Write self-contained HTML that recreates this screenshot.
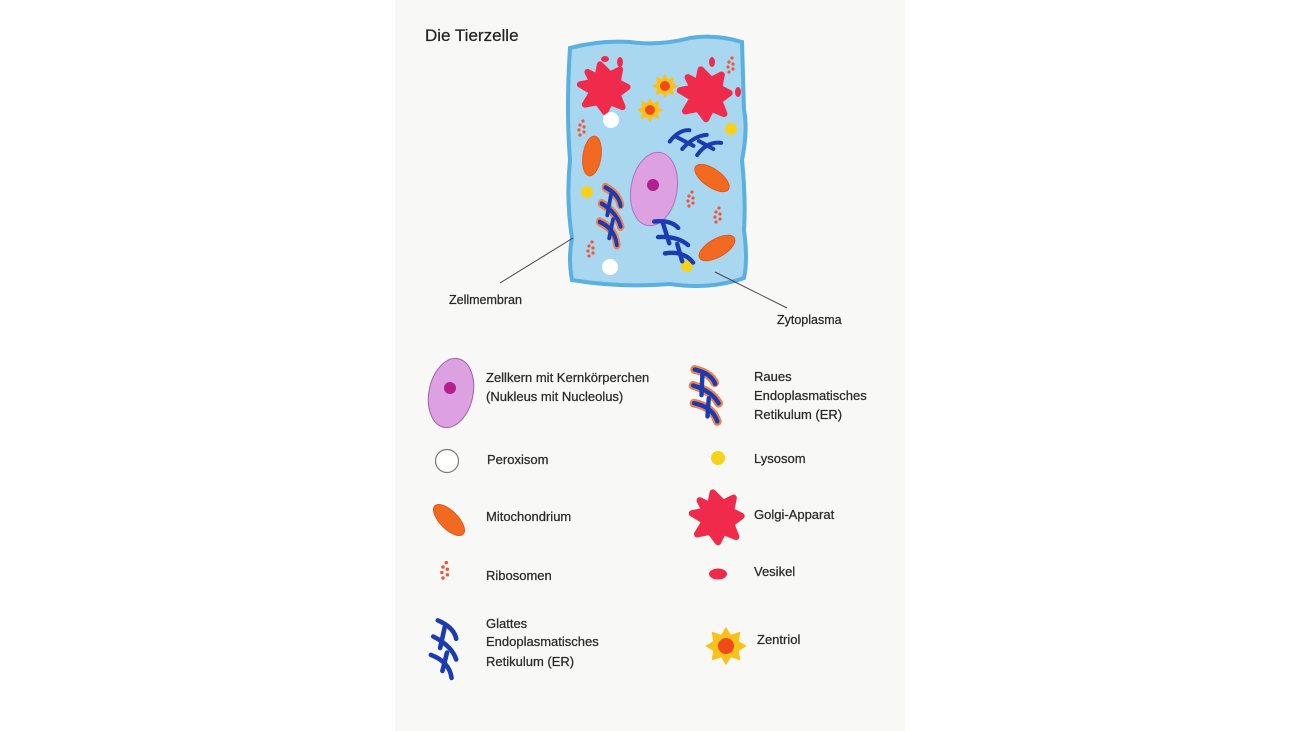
<!DOCTYPE html>
<html><head><meta charset="utf-8"><style>
html,body{margin:0;padding:0;background:#fff;}
svg{display:block}
text{font-family:"Liberation Sans",sans-serif;fill:#2a2a2a;stroke:#2a2a2a;stroke-width:0.25;}
</style></head><body>
<svg width="1300" height="731" viewBox="0 0 1300 731">
<defs>
<g id="golgi"><path d="M-14,-12 L-6,-8 L-4,-18 L4,-10 L12,-14 L10,-4 L18,0 L10,6 L14,16 L4,12 L0,20 L-6,12 L-16,14 L-10,4 L-20,-2 L-10,-4 Z" fill="#f02a4a" stroke="#f02a4a" stroke-width="5" stroke-linejoin="round"/></g>
<g id="cent"><path d="M0,-12 L3,-7 L9,-9 L8,-3 L13,0 L8,3 L9,9 L3,7 L0,12 L-3,7 L-9,9 L-8,3 L-13,0 L-8,-3 L-9,-9 L-3,-7 Z" fill="#f8c21a"/><circle r="5" fill="#f04a1a"/></g>
<g id="mito"><ellipse rx="9" ry="20" fill="#f26a22" stroke="#e5561a" stroke-width="1"/></g>
<g id="ribo" fill="#f0553a"><circle cx="0" cy="0" r="1.6"/><circle cx="4" cy="2" r="1.6"/><circle cx="-1" cy="5" r="1.6"/><circle cx="4" cy="7" r="1.6"/><circle cx="0" cy="10" r="1.6"/><circle cx="3" cy="-4" r="1.6"/></g>
<g id="ser" fill="none" stroke="#1a3cb0" stroke-width="4" stroke-linecap="round"><path d="M-8,-24 Q6,-18 8,-8"/><path d="M-12,-10 Q4,-2 8,10"/><path d="M-14,6 Q2,12 4,26"/><path d="M-2,-18 L-6,0 M0,4 L-4,20"/></g>
<g id="rer"><g fill="none" stroke="#f08050" stroke-width="8" stroke-linecap="round" stroke-dasharray="1.5 2"><path d="M-8,-24 Q6,-18 8,-8"/><path d="M-12,-10 Q4,-2 8,10"/><path d="M-14,6 Q2,12 4,26"/></g><use href="#ser"/></g>
</defs>
<rect x="395" y="0" width="510" height="731" fill="#f8f8f7"/>
<text x="425" y="41" font-size="17" style="fill:#222">Die Tierzelle</text>
<path d="M570,48 Q600,40 630,42 Q660,46 690,38 Q715,34 742,42 L744,110 Q748,130 742,160 Q746,200 744,230 Q748,260 744,278 Q710,290 670,284 Q620,288 572,280 Q568,258 572,238 Q566,200 570,160 Q566,110 570,48 Z" fill="#a9d7ef" stroke="#5aafe3" stroke-width="4"/>
<use href="#golgi" transform="translate(605,87) scale(1.25)"/>
<use href="#golgi" transform="translate(706,93) scale(1.3)"/>
<ellipse cx="605" cy="59" rx="4" ry="3" fill="#f02a4a"/><ellipse cx="620" cy="62" rx="3" ry="5" fill="#f02a4a"/>
<ellipse cx="712" cy="62" rx="3" ry="5" fill="#f02a4a"/><ellipse cx="738" cy="92" rx="3" ry="5" fill="#f02a4a"/>
<use href="#cent" x="665" y="86"/><use href="#cent" x="650" y="110"/>
<circle cx="611" cy="120" r="8" fill="#fff"/><circle cx="610" cy="267" r="8" fill="#fff"/>
<circle cx="731" cy="129" r="6" fill="#f6d219"/><circle cx="587" cy="192" r="6" fill="#f6d219"/><circle cx="687" cy="266" r="6" fill="#f6d219"/>
<use href="#mito" transform="translate(592,156) rotate(8)"/>
<use href="#mito" transform="translate(712,178) rotate(-55)"/>
<use href="#mito" transform="translate(717,248) rotate(60)"/>
<use href="#ribo" x="580" y="125"/><use href="#ribo" x="729" y="62"/><use href="#ribo" x="689" y="196"/><use href="#ribo" x="716" y="212"/><use href="#ribo" x="589" y="246"/>
<ellipse cx="654" cy="189" rx="23" ry="37" transform="rotate(10 654 189)" fill="#dda0e0" stroke="#b070c0" stroke-width="1"/>
<circle cx="653" cy="185" r="6" fill="#b0208e"/>
<use href="#ser" transform="translate(695,140) rotate(-75) scale(1.0)"/>
<use href="#rer" transform="translate(613,215) scale(0.95,1.15)"/>
<use href="#ser" transform="translate(675,240) rotate(-30) scale(1.1)"/>
<line x1="573" y1="238" x2="500" y2="283" stroke="#444" stroke-width="1"/>
<line x1="715" y1="272" x2="787" y2="308" stroke="#444" stroke-width="1"/>
<text x="449" y="304" font-size="12.5">Zellmembran</text>
<text x="777" y="324" font-size="12.5">Zytoplasma</text>
<g font-size="13">
<ellipse cx="451" cy="393" rx="22" ry="35" transform="rotate(12 451 393)" fill="#dda0e0" stroke="#a060b0" stroke-width="1"/>
<circle cx="450" cy="388" r="6" fill="#b0208e"/>
<text x="486" y="382">Zellkern mit Kernkörperchen</text>
<text x="486" y="401">(Nukleus mit Nucleolus)</text>
<use href="#rer" transform="translate(708,394) rotate(-10) scale(1.1)"/>
<text x="754" y="381">Raues</text>
<text x="754" y="400">Endoplasmatisches</text>
<text x="754" y="419">Retikulum (ER)</text>
<circle cx="447" cy="461" r="11.5" fill="#fff" stroke="#777" stroke-width="1.2"/>
<text x="487" y="464">Peroxisom</text>
<circle cx="718" cy="458" r="7" fill="#f6d219"/>
<text x="754" y="463">Lysosom</text>
<use href="#mito" transform="translate(449,520) rotate(-45)"/>
<text x="486" y="521">Mitochondrium</text>
<use href="#golgi" transform="translate(718,516) scale(1.3)"/>
<text x="754" y="519">Golgi-Apparat</text>
<use href="#ribo" transform="translate(443,567) scale(1.1)"/>
<text x="486" y="580">Ribosomen</text>
<ellipse cx="718" cy="574" rx="9" ry="5.5" fill="#f02a4a"/>
<text x="754" y="576">Vesikel</text>
<use href="#ser" transform="translate(447,648) scale(1.15)"/>
<text x="486" y="628">Glattes</text>
<text x="486" y="646">Endoplasmatisches</text>
<text x="486" y="666">Retikulum (ER)</text>
<use href="#cent" transform="translate(726,646) scale(1.6)"/>
<text x="757" y="644">Zentriol</text>
</g>
</svg>
</body></html>
